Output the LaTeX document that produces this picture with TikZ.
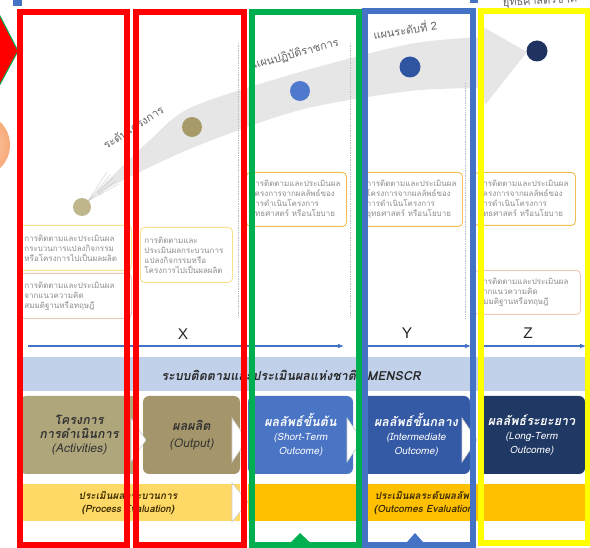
\documentclass[tikz,border=0pt]{standalone}
\usepackage{fontspec}
\setmainfont{Liberation Sans}
\newfontfamily\thaifont[Script=Thai]{Loma}
\newfontfamily\thaislant[Script=Thai,FakeSlant=0.2]{Loma}
\usetikzlibrary{positioning, arrows.meta, shapes.geometric}
\newcommand{\framewidth}{6pt}
\newcommand{\timearrow}{-{Latex[length=6pt,width=5pt]}}
\newcommand{\stagetitle}[1]{{\fontsize{12.5}{14}\selectfont\bfseries #1}}
\newcommand{\stagesub}[1]{{\fontsize{10}{11}\selectfont #1}}
\definecolor{frred}{RGB}{255,0,0}
\definecolor{frgreen}{RGB}{0,176,80}
\definecolor{frblue}{RGB}{68,114,196}
\definecolor{fryellow}{RGB}{255,255,0}
\definecolor{bandgray}{RGB}{230,230,230}
\definecolor{dotone}{RGB}{191,182,140}
\definecolor{dottwo}{RGB}{166,154,104}
\definecolor{dotthree}{RGB}{79,121,205}
\definecolor{dotfour}{RGB}{47,85,160}
\definecolor{dotfive}{RGB}{31,50,96}
\definecolor{labelgray}{RGB}{100,100,100}
\definecolor{notegray}{RGB}{140,140,140}
\definecolor{noteyellow}{RGB}{247,225,140}
\definecolor{notepink}{RGB}{244,200,185}
\definecolor{notegold}{RGB}{242,192,80}
\definecolor{dotcol}{RGB}{190,190,200}
\definecolor{bannerblue}{RGB}{194,209,234}
\definecolor{bannertext}{RGB}{40,40,40}
\definecolor{acttan}{RGB}{176,166,124}
\definecolor{outtan}{RGB}{164,150,106}
\definecolor{shortblue}{RGB}{74,116,196}
\definecolor{midblue}{RGB}{52,89,165}
\definecolor{longnavy}{RGB}{32,56,100}
\definecolor{procyellow}{RGB}{255,217,102}
\definecolor{outgold}{RGB}{255,192,0}
\definecolor{evaltext}{RGB}{60,45,0}
\definecolor{softorange}{RGB}{248,170,120}

\tikzset{
  dot/.style={circle, minimum size=20pt, inner sep=0pt},
  notebox/.style={draw, rounded corners=4pt, line width=0.9pt, fill=white, text=notegray,
    align=left, inner xsep=4pt, inner ysep=3pt, anchor=north west,
    font=\thaifont\fontsize{8}{10}\selectfont},
  stagebox/.style={rounded corners=6pt, minimum height=78pt, align=center, inner sep=1pt,
    font=\thaislant},
  evalbar/.style={minimum height=37pt, inner sep=0pt},
  evaltextstyle/.style={align=center, text=evaltext, font=\thaislant\bfseries\fontsize{10}{13}\selectfont},
  pathlabel/.style={fill=white, fill opacity=0.7, text opacity=1, text=labelgray,
    font=\thaifont\fontsize{11}{12}\selectfont, inner sep=2pt},
  gapmark/.style={fill=white, draw=gray!40, line width=0.6pt},
  colframe/.style={draw, line width=\framewidth},
  axisletter/.style={font=\fontsize{15.5}{15.5}\selectfont, text=black!85},
}

\begin{document}
\begin{tikzpicture}[x=1pt, y=-1pt]
        \useasboundingbox (0,0) rectangle (590,548);
        \fill[white] (0,0) rectangle (590,548);

        \filldraw[fill=frred, draw=frgreen, line width=1pt] (-2,12) -- (18,51) -- (-2,88) -- cycle;
        \shade[inner color=softorange!50, outer color=softorange] (-22,145) circle (32pt);
        \fill[frblue] (13,-4) rectangle (22,6);
        \fill[frblue] (470,-4) rectangle (478,3);

        \fill[bandgray] plot[smooth] coordinates {(96,192) (150,140) (192,107) (300,72) (410,44) (483,37)}
          -- (483,27) -- (527,52) -- (485,105)
          -- plot[smooth] coordinates {(483,88) (410,91) (300,110) (192,148) (112,186) (100,196)} -- cycle;
        \foreach \tk in {-6,-3,0,3,6}
          \draw[bandgray!70!gray, line width=0.3pt] (88,201) -- (113+\tk,178+\tk);

        \foreach \dx/\dtop in {238/43, 350/43, 465/83}
          \draw[dotcol, densely dotted, line width=0.7pt] (\dx,\dtop) -- (\dx,318);

        \node[dot, minimum size=18pt, fill=dotone] (projdot) at (82,207) {};
        \node[dot, fill=dottwo] (outdot) at (192,127) {};
        \node[dot, fill=dotthree] (plandot) at (300,91) {};
        \node[dot, minimum size=21pt, fill=dotfour] (leveldot) at (410,67) {};
        \node[dot, minimum size=21pt, fill=dotfive] (goaldot) at (537,51) {};

        \node[pathlabel, rotate=33] (projlabel) at (133,127) {ระดับโครงการ};
        \node[pathlabel, rotate=15] (planlabel) at (296,54) {แผนปฏิบัติราชการ};
        \node[pathlabel, rotate=8] (levellabel) at (405,29) {แผนระดับที่ 2};
        \node[pathlabel, rotate=3] (goallabel) at (540,1) {ยุทธศาสตร์ชาติ};

        \node[notebox, draw=noteyellow, text width=103pt, minimum height=45pt] (noteproc) at (20,225)
          {การติดตามและประเมินผล\\กระบวนการแปลงกิจกรรม\\หรือโครงการไปเป็นผลผลิต};
        \node[notebox, draw=notepink, text width=103pt, minimum height=45pt] (notetheory) at (20,273)
          {การติดตามและประเมินผล\\จากแนวความคิด\\สมมติฐานหรือทฤษฎี};
        \node[notebox, draw=noteyellow, text width=84pt, minimum height=55pt] (noteoutput) at (140,227)
          {การติดตามและ\\ประเมินผลกระบวนการ\\แปลงกิจกรรมหรือ\\โครงการไปเป็นผลผลิต};
        \node[notebox, draw=notegold, text width=92pt, minimum height=54pt] (noteshort) at (246,172)
          {การติดตามและประเมินผล\\โครงการจากผลลัพธ์ของ\\การดำเนินโครงการ\\ยุทธศาสตร์ หรือนโยบาย};
        \node[notebox, draw=notegold, text width=92pt, minimum height=54pt] (notemid) at (362,172)
          {การติดตามและประเมินผล\\โครงการจากผลลัพธ์ของ\\การดำเนินโครงการ\\ยุทธศาสตร์ หรือนโยบาย};
        \node[notebox, draw=notegold, text width=93pt, minimum height=53pt] (notelong) at (474,172)
          {การติดตามและประเมินผล\\โครงการจากผลลัพธ์ของ\\การดำเนินโครงการ\\ยุทธศาสตร์ หรือนโยบาย};
        \node[notebox, draw=notepink, text width=98pt, minimum height=44pt] (notegoal) at (474,270)
          {การติดตามและประเมินผล\\จากแนวความคิด\\สมมติฐานหรือทฤษฎี};

        \coordinate (tla) at (28,346);
        \coordinate (tlb) at (344,346);
        \coordinate (tlc) at (357,346);
        \coordinate (tld) at (471,346);
        \coordinate (tle) at (483,346);
        \coordinate (tlf) at (586,346);
        \draw[frblue, line width=1.2pt, \timearrow] (tla) -- (tlb);
        \draw[frblue, line width=1.2pt, \timearrow] (tlc) -- (tld);
        \draw[frblue, line width=1.2pt, \timearrow] (tle) -- (tlf);
        \node[axisletter] (xmark) at (183,334) {X};
        \node[axisletter] (ymark) at (407,333) {Y};
        \node[axisletter] (zmark) at (528,333) {Z};

        \node[fill=bannerblue, minimum width=567pt, minimum height=34pt, inner sep=0pt] (banner) at (301.5,374) {};
        \node[text=bannertext, font=\thaislant\bfseries\fontsize{12.5}{14}\selectfont] (bannerlabel) at (291,375)
          {ระบบติดตามและประเมินผลแห่งชาติ eMENSCR};

        \node[stagebox, fill=acttan, minimum width=118pt, text=black!80] (activities) at (79,435)
          {\stagetitle{โครงการ}\\[2pt]\stagetitle{การดำเนินการ}\\[2pt]{\fontsize{12}{13}\selectfont (Activities)}};
        \node[stagebox, fill=outtan, minimum width=97pt, text=black!80] (output) at (191.5,435)
          {\stagetitle{ผลผลิต}\\[5pt]{\fontsize{12}{13}\selectfont (Output)}};
        \node[stagebox, fill=shortblue, minimum width=105pt, text=white] (shortterm) at (300.5,435)
          {\stagetitle{ผลลัพธ์ขั้นต้น}\\[2pt]\stagesub{(Short-Term}\\[2pt]\stagesub{Outcome)}};
        \node[stagebox, fill=midblue, minimum width=108pt, text=white] (intermediate) at (416,435)
          {\stagetitle{ผลลัพธ์ขั้นกลาง}\\[2pt]\stagesub{(Intermediate}\\[2pt]\stagesub{Outcome)}};
        \node[stagebox, fill=longnavy, minimum width=107pt, text=white] (longterm) at (531.5,435)
          {\stagetitle{ผลลัพธ์ระยะยาว}\\[2pt]\stagesub{(Long-Term}\\[2pt]\stagesub{Outcome)}};
        \foreach \gx in {131,232,347,462}
          \draw[gapmark] (\gx,418) -- (\gx+15,440) -- (\gx,462) -- cycle;

        \node[evalbar, fill=procyellow, minimum width=220pt] (process) at (130,502.5) {};
        \node[evaltextstyle] (processlabel) at (128,502.5) {ประเมินผลกระบวนการ\\(Process Evaluation)};
        \node[evalbar, fill=outgold, minimum width=337pt] (outcomes) at (416.5,502.5) {};
        \node[evaltextstyle] (outcomeslabel) at (425,502.5) {ประเมินผลระดับผลลัพธ์\\(Outcomes Evaluation)};
        \draw[gapmark] (232,483) -- (248,502) -- (232,522) -- cycle;

        \fill[frgreen] (283,550) -- (300,533) -- (318,550) -- cycle;
        \fill[frblue] (400,550) -- (415,533) -- (430,550) -- cycle;
        \draw[colframe, frred] (19.5,12.5) rectangle (127,545);
        \draw[colframe, frred] (135.5,12.5) rectangle (244,545);
        \draw[colframe, frgreen] (251.5,12.5) rectangle (358.5,545);
        \draw[colframe, frblue] (365,11.5) rectangle (473,545);
        \draw[colframe, fryellow] (481,11.5) rectangle (588,543);
    \end{tikzpicture}
\end{document}
